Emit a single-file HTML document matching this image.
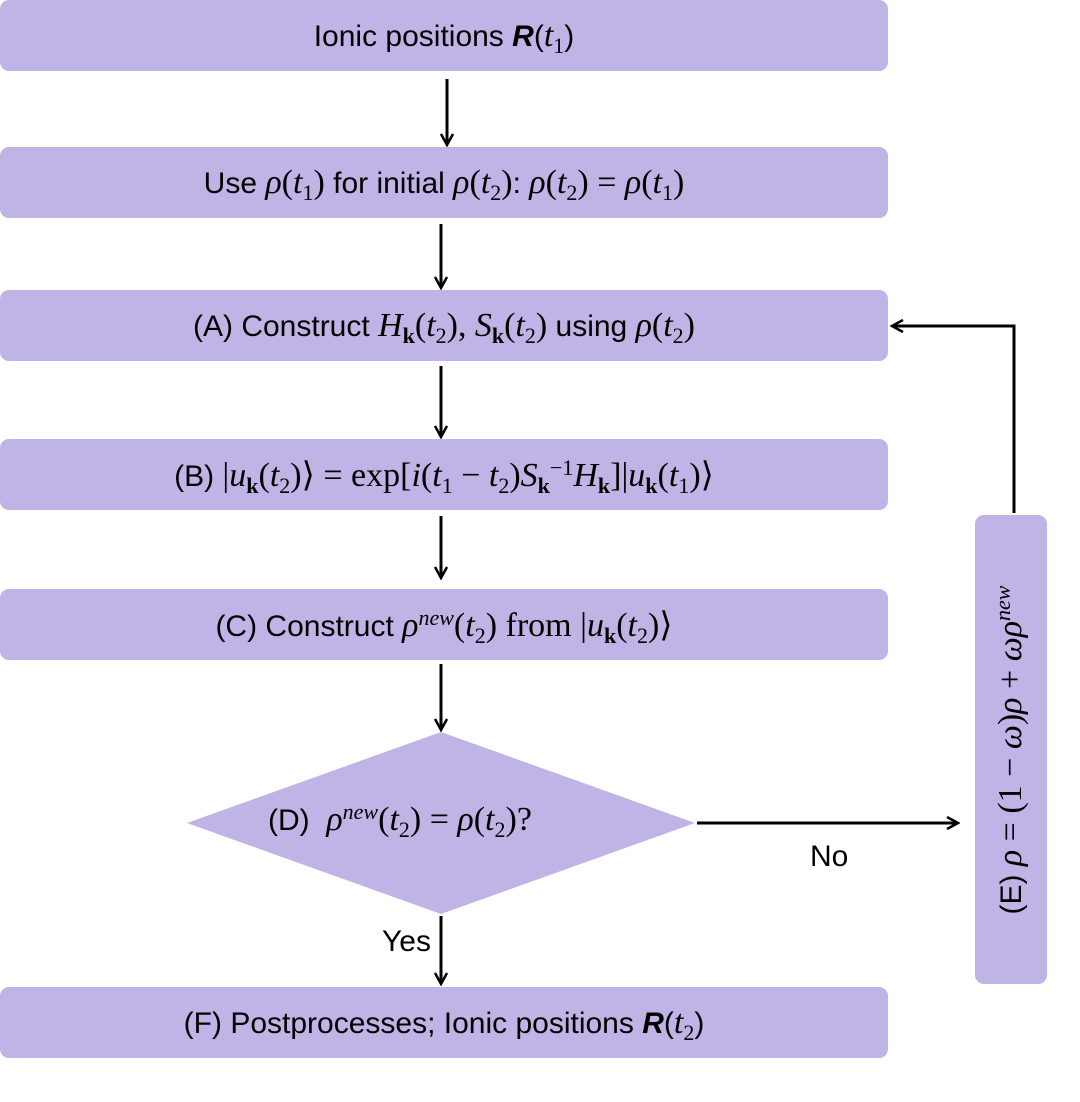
<!DOCTYPE html>
<html><head><meta charset="utf-8"><style>
body{margin:0;background:#fff;width:1080px;height:1102px;position:relative;overflow:hidden;font-family:"Liberation Sans",sans-serif;}
.b{position:absolute;left:0;width:888px;height:71px;background:#c0b3e6;border-radius:9px;display:flex;align-items:center;justify-content:center;font-size:30px;color:#000;white-space:nowrap}
.m{font-family:"Liberation Serif",serif;font-style:italic;font-size:34px}
.r{font-family:"Liberation Serif",serif;font-size:34px}
sub,sup{font-size:22px;font-family:"Liberation Serif",serif;font-style:normal;line-height:0}
svg{position:absolute;left:0;top:0}
.t{position:absolute;font-size:30px;white-space:nowrap}
</style></head><body>
<svg width="1080" height="1102">
<defs><marker id="a" markerWidth="14" markerHeight="14" refX="12" refY="7" orient="auto" markerUnits="userSpaceOnUse"><path d="M1,1 L12,7 L1,13" fill="none" stroke="#000" stroke-width="2.5"/></marker></defs>
<g stroke="#000" stroke-width="3" fill="none">
<line x1="447" y1="79" x2="447" y2="145" marker-end="url(#a)"/>
<line x1="441" y1="224" x2="441" y2="288" marker-end="url(#a)"/>
<line x1="441" y1="366" x2="441" y2="437" marker-end="url(#a)"/>
<line x1="441" y1="516" x2="441" y2="578" marker-end="url(#a)"/>
<line x1="441" y1="664" x2="441" y2="730" marker-end="url(#a)"/>
<line x1="441" y1="916" x2="441" y2="984" marker-end="url(#a)"/>
<line x1="697" y1="823" x2="958" y2="823" marker-end="url(#a)"/>
<polyline points="1014,513 1014,326 892,326" marker-end="url(#a)"/>
</g>
<polygon points="187,823 441,732 695,823 441,914" fill="#c0b3e6"/>
<rect x="975" y="515" width="72" height="469" rx="9" fill="#c0b3e6"/>
</svg>
<div class="b" style="top:0"><span>Ionic positions <b><i>R</i></b>(<span class="m">t</span><sub>1</sub>)</span></div>
<div class="b" style="top:147px"><span>Use <span class="m">ρ</span><span class="r">(</span><span class="m">t</span><sub>1</sub><span class="r">)</span> for initial <span class="m">ρ</span><span class="r">(</span><span class="m">t</span><sub>2</sub><span class="r">)</span>: <span class="m">ρ</span><span class="r">(</span><span class="m">t</span><sub>2</sub><span class="r">) = </span><span class="m">ρ</span><span class="r">(</span><span class="m">t</span><sub>1</sub><span class="r">)</span></span></div>
<div class="b" style="top:290px"><span>(A) Construct <span class="m">H</span><sub><b>k</b></sub><span class="r">(</span><span class="m">t</span><sub>2</sub><span class="r">),</span> <span class="m">S</span><sub><b>k</b></sub><span class="r">(</span><span class="m">t</span><sub>2</sub><span class="r">)</span> using <span class="m">ρ</span><span class="r">(</span><span class="m">t</span><sub>2</sub><span class="r">)</span></span></div>
<div class="b" style="top:439px"><span>(B) <span class="r">|</span><span class="m">u</span><sub><b>k</b></sub><span class="r">(</span><span class="m">t</span><sub>2</sub><span class="r">)⟩ = exp[</span><span class="m">i</span><span class="r">(</span><span class="m">t</span><sub>1</sub><span class="r"> − </span><span class="m">t</span><sub>2</sub><span class="r">)</span><span class="m">S</span><sub><b>k</b></sub><sup>−1</sup><span class="m">H</span><sub><b>k</b></sub><span class="r">]|</span><span class="m">u</span><sub><b>k</b></sub><span class="r">(</span><span class="m">t</span><sub>1</sub><span class="r">)⟩</span></span></div>
<div class="b" style="top:589px"><span>(C) Construct <span class="m">ρ</span><sup><i>new</i></sup><span class="r">(</span><span class="m">t</span><sub>2</sub><span class="r">) from |</span><span class="m">u</span><sub><b>k</b></sub><span class="r">(</span><span class="m">t</span><sub>2</sub><span class="r">)⟩</span></span></div>
<div class="t" style="left:268px;top:801px">(D)&nbsp; <span class="m">ρ</span><sup><i>new</i></sup><span class="r">(</span><span class="m">t</span><sub>2</sub><span class="r">) = </span><span class="m">ρ</span><span class="r">(</span><span class="m">t</span><sub>2</sub><span class="r">)?</span></div>
<div class="t" style="left:810px;top:840px">No</div>
<div class="t" style="left:382px;top:925px">Yes</div>
<div class="b" style="top:987px"><span>(F) Postprocesses; Ionic positions <b><i>R</i></b>(<span class="m">t</span><sub>2</sub>)</span></div>
<div class="t" style="left:1011px;top:750px;transform:translate(-50%,-50%) rotate(-90deg)">(E) <span class="m">ρ</span><span class="r"> = (1 − </span><span class="m">ω</span><span class="r">)</span><span class="m">ρ</span><span class="r"> + </span><span class="m">ωρ</span><sup><i>new</i></sup></div>
</body></html>
